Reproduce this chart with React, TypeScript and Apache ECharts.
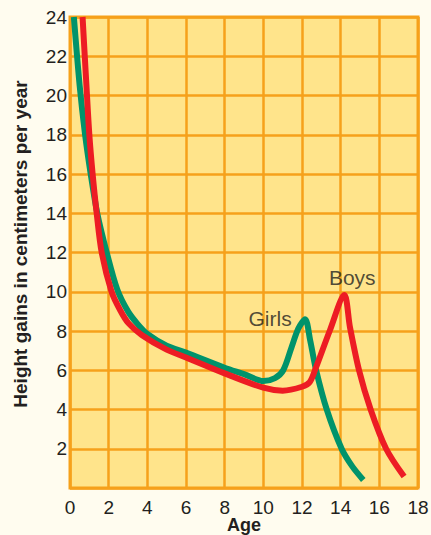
import React, { useEffect, useRef } from "react";
import * as echarts from "echarts";

const ageTicks = [0, 2, 4, 6, 8, 10, 12, 14, 16, 18];
const gainTicks = [2, 4, 6, 8, 10, 12, 14, 16, 18, 20, 22, 24];

const girlsAge = [0.2, 0.5, 0.78, 1.07, 1.41, 1.9, 2.45, 3.0, 3.5, 4.0, 5.0, 6.0, 8.0, 9.0, 10.0, 10.6, 11.03, 11.47, 11.81, 12.16, 12.42, 12.73, 13.28, 14.05, 14.6, 15.17];
const girlsGain = [24, 20.5, 18, 16, 14, 12, 10.1, 9.0, 8.35, 7.85, 7.25, 6.9, 6.13, 5.8, 5.45, 5.6, 6.0, 7.2, 8.13, 8.6, 7.54, 6.0, 4.0, 2.0, 1.1, 0.41];

const boysAge = [0.65, 0.85, 1.0, 1.17, 1.38, 1.64, 2.15, 2.59, 3.02, 3.71, 5.0, 6.0, 8.0, 10.0, 11.0, 12.0, 12.4, 12.67, 13.45, 14.19, 14.48, 14.95, 15.55, 16.35, 17.28];
const boysGain = [24, 20.5, 18, 16, 14, 12, 10, 9.07, 8.4, 7.8, 7.05, 6.65, 5.84, 5.11, 4.96, 5.16, 5.4, 6.0, 8.05, 9.83, 8.2, 6.0, 4.0, 2.0, 0.58];

const labelNames = ["Girls", "Boys"];
const labelAge = [10.35, 14.6];
const labelGain = [8.66, 10.75];

const yTitle = "Height gains in centimeters per year";
const xTitle = "Age";

const ORANGE = "#F6A11B";
const TEXT = "#231F20";

export default function App() {
  const ref = useRef<HTMLDivElement>(null);
  useEffect(() => {
    if (!ref.current) return;
    const chart = echarts.init(ref.current, null, { renderer: "svg" });
    const font = "'Liberation Sans', Arial, sans-serif";
    chart.setOption({
      animation: false,
      backgroundColor: "#FFFCEF",
      textStyle: { fontFamily: font },
      grid: {
        left: 70,
        right: 13,
        top: 17,
        bottom: 47,
        outerBoundsMode: "none",
        containLabel: false,
        show: true,
        backgroundColor: "#FFE48B",
        borderColor: ORANGE,
        borderWidth: 3,
      },
      graphic: [
        {
          type: "text",
          x: 20,
          y: 244,
          rotation: Math.PI / 2,
          style: {
            text: yTitle,
            fontFamily: font,
            fontSize: 19,
            fontWeight: "bold",
            fill: TEXT,
            textAlign: "center",
            textVerticalAlign: "middle",
          },
        },
        {
          type: "text",
          x: 244,
          y: 525,
          style: {
            text: xTitle,
            fontFamily: font,
            fontSize: 18,
            fontWeight: "bold",
            fill: TEXT,
            textAlign: "center",
            textVerticalAlign: "middle",
          },
        },
      ],
      xAxis: {
        type: "value",
        min: 0,
        max: 18,
        interval: 2,
        axisLine: { show: false },
        axisTick: { show: false },
        axisLabel: {
          fontFamily: font,
          fontSize: 19,
          color: TEXT,
          margin: 10,
          formatter: (v: number) => (ageTicks.includes(v) ? String(v) : ""),
        },
        splitLine: { show: true, lineStyle: { color: ORANGE, width: 2.5 } },
      },
      yAxis: {
        type: "value",
        min: 0,
        max: 24,
        interval: 2,
        axisLine: { show: false },
        axisTick: { show: false },
        axisLabel: {
          fontFamily: font,
          fontSize: 19,
          color: TEXT,
          margin: 3,
          formatter: (v: number) => (gainTicks.includes(v) ? String(v) : ""),
        },
        splitLine: { show: true, lineStyle: { color: ORANGE, width: 2.5 } },
      },
      series: [
        {
          name: "Girls",
          type: "line",
          smooth: 0.3,
          symbol: "none",
          clip: true,
          lineStyle: { color: "#00936B", width: 6, cap: "butt" },
          data: girlsAge.map((a, i) => [a, girlsGain[i]]),
          z: 2,
        },
        {
          name: "Boys",
          type: "line",
          smooth: 0.3,
          symbol: "none",
          clip: true,
          lineStyle: { color: "#ED1C24", width: 6, cap: "butt" },
          data: boysAge.map((a, i) => [a, boysGain[i]]),
          z: 3,
        },
        {
          name: "labels",
          type: "scatter",
          symbolSize: 0,
          silent: true,
          label: {
            show: true,
            position: "inside",
            formatter: (p: any) => labelNames[p.dataIndex],
            fontFamily: font,
            fontSize: 21,
            color: TEXT,
          },
          data: labelAge.map((a, i) => [a, labelGain[i]]),
          z: 4,
        },
      ],
    });
    return () => chart.dispose();
  }, []);
  return (
    <div
      ref={ref}
      style={{ position: "fixed", left: 0, top: 0, width: 431, height: 535 }}
    />
  );
}
